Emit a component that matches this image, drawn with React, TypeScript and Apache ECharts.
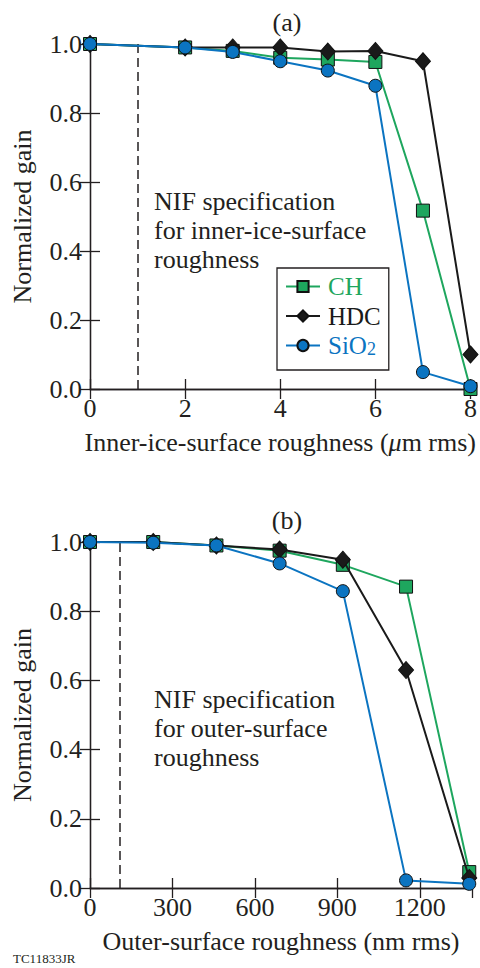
import React, { useEffect, useRef } from "react";
import * as echarts from "echarts";

// ---- data ----
const X_A = [0, 2, 3, 4, 5, 6, 7, 8];
const CH_A = [1.0, 0.99, 0.98, 0.96, 0.955, 0.948, 0.517, 0.0];
const HDC_A = [1.0, 0.99, 0.99, 0.99, 0.978, 0.98, 0.95, 0.1];
const SIO2_A = [1.0, 0.99, 0.977, 0.95, 0.923, 0.879, 0.049, 0.008];
const SPEC_A = 1;

const X_B = [0, 230, 460, 690, 920, 1150, 1380];
const CH_B = [1.0, 1.0, 0.99, 0.975, 0.934, 0.871, 0.046];
const HDC_B = [1.0, 1.0, 0.99, 0.978, 0.949, 0.63, 0.029];
const SIO2_B = [1.0, 0.998, 0.99, 0.938, 0.858, 0.022, 0.012];
const SPEC_B = 110;

const SERIES_NAMES = ["CH", "HDC", "SiO2"];
const TITLES = ["(a)", "(b)"];
const X_NAMES = [
  "Inner-ice-surface roughness ({i|\u03bc}m rms)",
  "Outer-surface roughness (nm rms)",
];
const Y_NAME = "Normalized gain";
const NOTES = [
  "NIF specification\nfor inner-ice-surface\nroughness",
  "NIF specification\nfor outer-surface\nroughness",
];
const FIG_ID = "TC11833JR";

// ---- styles ----
const FONT = '"Liberation Serif", "Times New Roman", serif';
const FS = 26;
const INK = "#231f20";
const GREEN = "#1ea65e";
const BLUE = "#0b74c1";
const BLACK = "#1a1a1a";
const COLORS = [GREEN, BLACK, BLUE];
const SYMBOLS = ["rect", "diamond", "circle"];
const SYM_SIZE = [13, [15, 17], 13];

const pairs = (xs: number[], ys: number[]) => xs.map((x, i) => [x, ys[i]]);

function makeXAxes(gridIndex: number, max: number, interval: number, name: string) {
  const line = { lineStyle: { color: INK, width: 1.3 } };
  const tick = { inside: true, length: 10, lineStyle: { color: INK, width: 1.3 } };
  return [
    {
      type: "value",
      gridIndex,
      min: 0,
      max,
      interval,
      position: "bottom",
      axisLine: line,
      axisTick: tick,
      splitLine: { show: false },
      axisLabel: {
        color: INK,
        fontFamily: FONT,
        fontSize: FS,
        margin: 6,
        showMaxLabel: max % interval === 0,
        formatter: (v: number) => String(v),
      },
      name,
      nameLocation: "middle",
      nameGap: 40,
      nameTextStyle: {
        color: INK,
        fontFamily: FONT,
        fontSize: FS,
        rich: { i: { fontStyle: "italic", fontFamily: FONT, fontSize: FS, color: INK } },
      },
    },
    {
      type: "value",
      gridIndex,
      min: 0,
      max,
      interval,
      position: "top",
      axisLine: line,
      axisTick: tick,
      splitLine: { show: false },
      axisLabel: { show: false },
    },
  ];
}

function makeYAxes(gridIndex: number) {
  const line = { lineStyle: { color: INK, width: 1.3 } };
  const tick = { inside: true, length: 10, lineStyle: { color: INK, width: 1.3 } };
  return [
    {
      type: "value",
      gridIndex,
      min: 0,
      max: 1,
      interval: 0.2,
      position: "left",
      axisLine: line,
      axisTick: tick,
      splitLine: { show: false },
      axisLabel: {
        color: INK,
        fontFamily: FONT,
        fontSize: FS,
        margin: 8,
        formatter: (v: number) => v.toFixed(1),
      },
      name: Y_NAME,
      nameLocation: "middle",
      nameGap: 55,
      nameTextStyle: { color: INK, fontFamily: FONT, fontSize: FS },
    },
    {
      type: "value",
      gridIndex,
      min: 0,
      max: 1,
      interval: 0.2,
      position: "right",
      axisLine: line,
      axisTick: tick,
      splitLine: { show: false },
      axisLabel: { show: false },
    },
  ];
}

function makeSeries(gridIdx: number, xs: number[], ysList: number[][], spec: number) {
  return ysList.map((ys, k) => {
    const s: any = {
      type: "line",
      name: SERIES_NAMES[k],
      xAxisIndex: gridIdx * 2,
      yAxisIndex: gridIdx * 2,
      data: pairs(xs, ys),
      symbol: SYMBOLS[k],
      symbolSize: SYM_SIZE[k],
      showSymbol: true,
      clip: false,
      lineStyle: { color: COLORS[k], width: 2 },
      itemStyle: { color: COLORS[k], borderColor: "#111", borderWidth: 1 },
      z: 3 + k,
    };
    if (k === 0) {
      s.markLine = {
        silent: true,
        symbol: ["none", "none"],
        label: { show: false },
        lineStyle: { color: INK, type: [9, 5], width: 1.5 },
        data: [{ xAxis: spec }],
      };
    }
    return s;
  });
}

export default function App() {
  const ref = useRef<HTMLDivElement>(null);

  useEffect(() => {
    if (!ref.current) return;
    const chart = echarts.init(ref.current, undefined, { renderer: "svg" });

    const titleStyle = { fontFamily: FONT, fontSize: FS, fontWeight: "normal", color: INK };
    const option: any = {
      animation: false,
      backgroundColor: "#ffffff",
      title: [
        { text: TITLES[0], left: 282, top: 4, textAlign: "center", textStyle: titleStyle },
        { text: TITLES[1], left: 282, top: 502, textAlign: "center", textStyle: titleStyle },
      ],
      grid: [
        { left: 90, top: 44, width: 382, height: 345 },
        { left: 90, top: 542, width: 382, height: 346 },
      ],
      xAxis: [...makeXAxes(0, 8, 2, X_NAMES[0]), ...makeXAxes(1, 1390, 300, X_NAMES[1])],
      yAxis: [...makeYAxes(0), ...makeYAxes(1)],
      legend: {
        orient: "vertical",
        left: 277,
        top: 268,
        padding: [6, 8, 12, 8],
        itemGap: 4.5,
        itemWidth: 34,
        itemHeight: 14,
        borderColor: INK,
        borderWidth: 1.3,
        backgroundColor: "#ffffff",
        selectedMode: false,
        data: SERIES_NAMES.map((n, k) => ({ name: n, textStyle: { color: COLORS[k] } })),
        formatter: (n: string) => (n === "SiO2" ? "SiO{sub|2}" : n),
        textStyle: {
          fontFamily: FONT,
          fontSize: 25,
          lineHeight: 24,
          padding: [0, 0, 0, 3],
          rich: {
            sub: {
              fontFamily: FONT,
              fontSize: 18,
              color: BLUE,
              verticalAlign: "bottom",
              padding: [12, 0, 0, 0],
            },
          },
        },
      },
      graphic: [
        {
          type: "text",
          left: 154,
          top: 187,
          style: { text: NOTES[0], font: `${FS}px ${FONT}`, fill: INK, lineHeight: 29 },
        },
        {
          type: "text",
          left: 154,
          top: 685,
          style: { text: NOTES[1], font: `${FS}px ${FONT}`, fill: INK, lineHeight: 29 },
        },
        {
          type: "text",
          left: 13,
          top: 952,
          style: { text: FIG_ID, font: `13px ${FONT}`, fill: INK },
        },
      ],
      series: [
        ...makeSeries(0, X_A, [CH_A, HDC_A, SIO2_A], SPEC_A),
        ...makeSeries(1, X_B, [CH_B, HDC_B, SIO2_B], SPEC_B),
      ],
    };

    chart.setOption(option);
    return () => chart.dispose();
  }, []);

  return <div ref={ref} style={{ width: 480, height: 968, position: "absolute", left: 0, top: 0 }} />;
}
